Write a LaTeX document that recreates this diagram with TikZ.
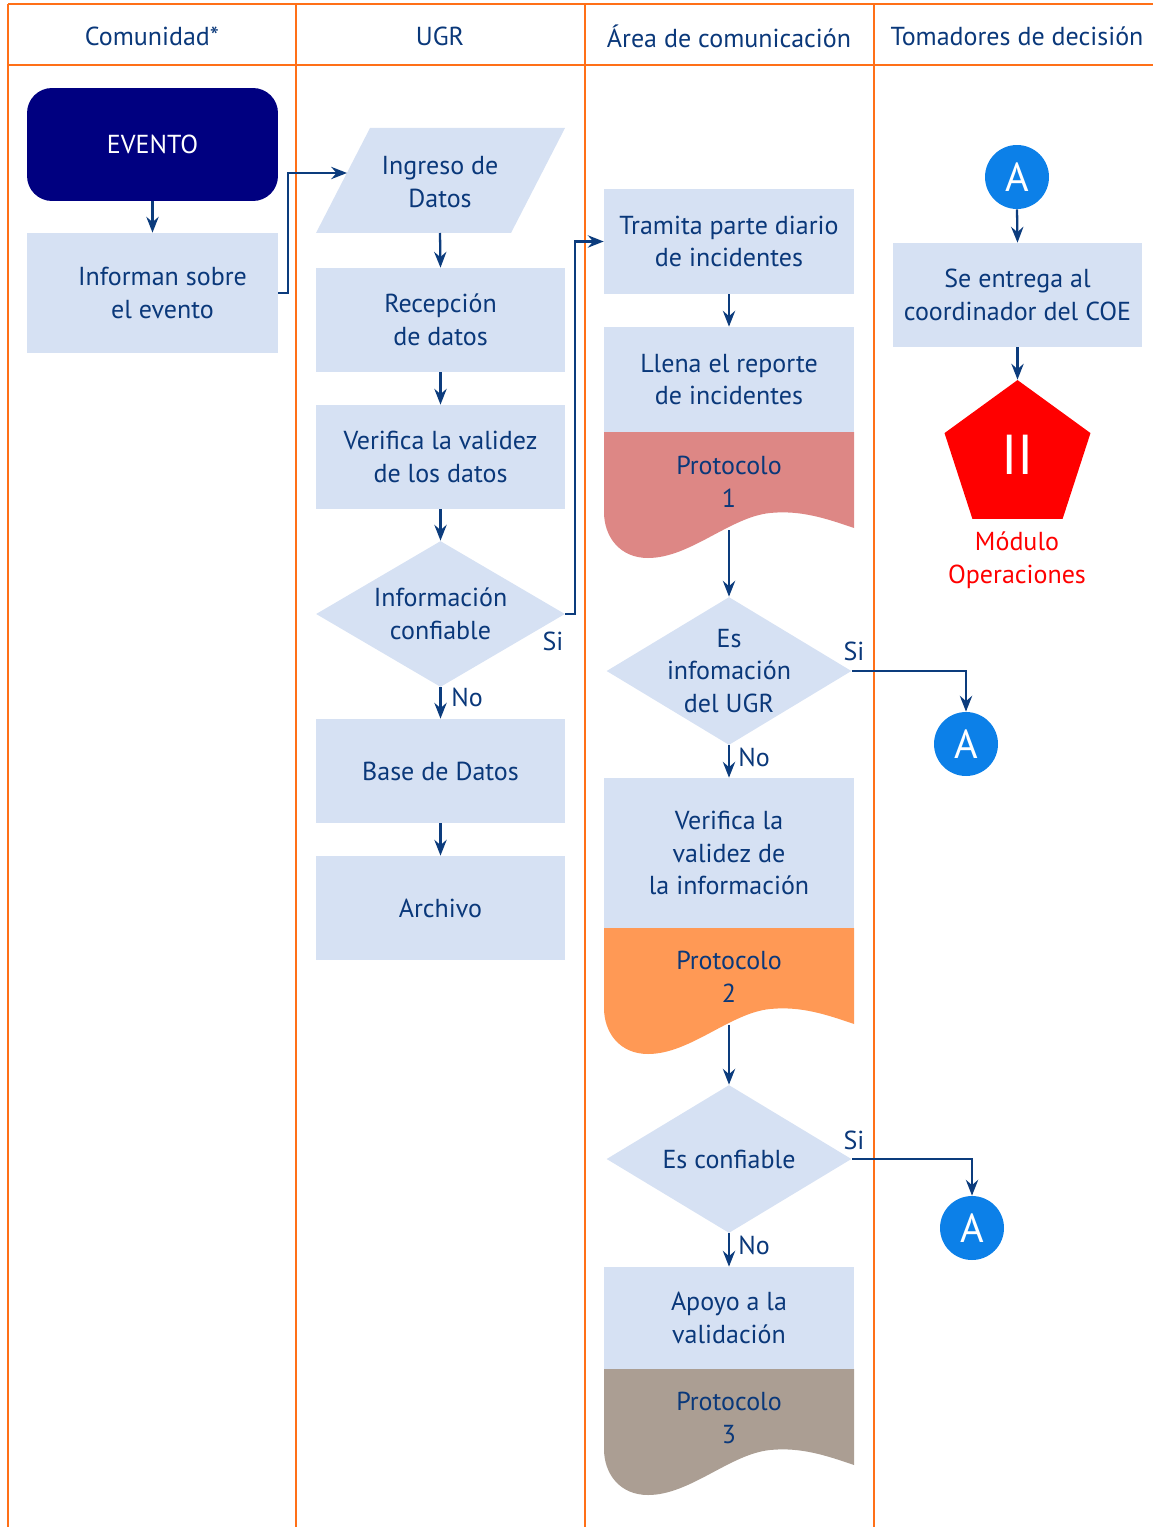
\documentclass[tikz,border=0pt]{standalone}
\usepackage{fontspec}
\setmainfont{PT Sans}
\usetikzlibrary{shapes.geometric,arrows.meta}
\definecolor{lanec}{RGB}{255,112,24}
\definecolor{textc}{RGB}{10,56,122}
\definecolor{arrowc}{RGB}{12,60,125}
\definecolor{boxc}{RGB}{214,225,243}
\definecolor{navyc}{RGB}{0,0,128}
\definecolor{circc}{RGB}{12,128,232}
\definecolor{redc}{RGB}{255,0,0}
\definecolor{protoa}{RGB}{221,135,133}
\definecolor{protob}{RGB}{255,153,85}
\definecolor{protoc}{RGB}{171,158,147}
\newcommand\docwave[2]{%
  \begin{scope}[shift={(0,#2)}]
    \fill[#1] (604,0) -- (854,0) -- (854,96)
      .. controls (825,86) and (800,78) .. (770,81)
      .. controls (730,85) and (690,126) .. (648,126)
      .. controls (620,126) and (604,105) .. (604,80) -- cycle;
  \end{scope}}
\begin{document}
\begin{tikzpicture}[x=0.02cm,y=-0.02cm,
  txt/.style={text=textc, font=\fontsize{14.8}{18.7}\selectfont, align=center},
  box/.style={txt, fill=boxc, minimum width=5cm, minimum height=2.08cm, inner sep=0pt},
  decision/.style={diamond, fill=boxc, minimum width=4.9cm, minimum height=2.96cm, inner sep=0pt},
  conn/.style={circle, fill=circc, text=white, minimum size=1.28cm, inner sep=0pt,
    font=\fontsize{23}{23}\selectfont},
  lane/.style={draw=lanec, line width=1.5pt},
  flow/.style={draw=arrowc, line width=1.3pt, -{Stealth[length=9pt,width=7pt,inset=3pt]}},
  lbl/.style={txt, inner sep=0pt}]
\useasboundingbox (0,0) rectangle (1153,1527);

% swimlane grid
\draw[lane] (8,4) -- (1153,4);
\draw[lane] (8,65) -- (1153,65);
\foreach \lx in {8,296,585,874}
  \draw[lane] (\lx,4) -- (\lx,1527);

% lane headers
\node[txt] (h1) at (152,36) {Comunidad*};
\node[txt] (h2) at (440,36) {UGR};
\node[txt] (h3) at (729,36) {Área de comunicación};
\node[txt] (h4) at (1017,36) {Tomadores de decisión};

% Comunidad
\node[box, minimum width=5.02cm, minimum height=2.26cm, fill=navyc, text=white,
  rounded corners=0.5cm] (evento) at (152.5,144.5) {EVENTO};
\node[box, minimum width=5.02cm, minimum height=2.4cm] (informan) at (152.5,293)
  {\hspace*{0.4cm}Informan sobre\\\hspace*{0.4cm}el evento};

% UGR
\fill[boxc] (316,233) -- (370,128) -- (565,128) -- (511,233) -- cycle;
\node[txt] (ingreso) at (440,182) {Ingreso de\\Datos};
\coordinate (ingin) at (347,173);
\coordinate (ingout) at (440,233);
\node[box, minimum width=4.98cm] (recep) at (440.5,320) {Recepción\\de datos};
\node[box, minimum width=4.98cm] (verif) at (440.5,457) {Verifica la validez\\de los datos};
\node[decision, minimum width=4.98cm, minimum height=2.92cm] (conf) at (440.5,614) {};
\node[txt] (conftxt) at (conf) {Información\\confiable};
\node[box, minimum width=4.98cm] (base) at (440.5,771) {Base de Datos};
\node[box, minimum width=4.98cm] (archivo) at (440.5,908) {Archivo};

% Area de comunicacion
\node[box, minimum height=2.1cm] (tramita) at (729,241.5) {Tramita parte diario\\de incidentes};
\node[box, minimum height=2.1cm] (llena) at (729,379.5) {Llena el reporte\\de incidentes};
\docwave{protoa}{432}
\node[txt] (p1) at (729,482) {Protocolo\\1};
\coordinate (p1out) at (729,530);
\node[decision] (ugr) at (729,671) {};
\node[txt] (ugrtxt) at (ugr) {Es\\infomación\\del UGR};
\node[box, minimum height=3cm] (verif2) at (729,853) {Verifica la\\validez de\\la información};
\docwave{protob}{928}
\node[txt] (p2) at (729,977) {Protocolo\\2};
\coordinate (p2out) at (729,1025);
\node[decision] (conf2) at (729,1159) {};
\node[txt] (conf2txt) at (conf2) {Es confiable};
\node[box, minimum height=2.04cm] (apoyo) at (729,1318) {Apoyo a la\\validación};
\docwave{protoc}{1369}
\node[txt] (p3) at (729,1418) {Protocolo\\3};

% Tomadores de decision
\node[conn] (atop) at (1017,177) {A};
\node[box, minimum width=4.98cm] (coe) at (1017.5,295) {Se entrega al\\coordinador del COE};
\node[regular polygon, regular polygon sides=5, fill=redc, minimum size=3.07cm,
  inner sep=0pt] (pent) at (1017.5,456.8) {};
\node[text=white, font=\fontsize{32}{32}\selectfont] (pentxt) at (1017.5,455) {II};
\node[txt, text=redc] (modulo) at (1017,560) {Módulo\\Operaciones};
\node[conn] (a2) at (966,744) {A};
\node[conn] (a3) at (972,1228) {A};

% branch labels
\node[lbl] (si1) at (553,641) {Si};
\node[lbl] (no1) at (467,697) {No};
\node[lbl] (si2) at (854,651) {Si};
\node[lbl] (no2) at (754,757) {No};
\node[lbl] (si3) at (854,1140) {Si};
\node[lbl] (no3) at (754,1245) {No};

% connectors
\draw[flow] (evento.south) -- (informan.north);
\draw[flow] (informan.east) -- ++(10,0) |- (ingin);
\draw[flow] (ingout) -- (recep.north);
\draw[flow] (recep.south) -- (verif.north);
\draw[flow] (verif.south) -- (conf.north);
\draw[flow] (conf.south) -- (base.north);
\draw[flow] (base.south) -- (archivo.north);
\draw[flow] (conf.east) -- ++(10,0) |- (tramita.west);
\draw[flow] (tramita.south) -- (llena.north);
\draw[flow] (p1out) -- (ugr.north);
\draw[flow] (ugr.east) -| (a2.north);
\draw[flow] (ugr.south) -- (verif2.north);
\draw[flow] (p2out) -- (conf2.north);
\draw[flow] (conf2.east) -| (a3.north);
\draw[flow] (conf2.south) -- (apoyo.north);
\draw[flow] (atop.south) -- (coe.north);
\draw[flow] (coe.south) -- (pent.corner 1);
\end{tikzpicture}
\end{document}
